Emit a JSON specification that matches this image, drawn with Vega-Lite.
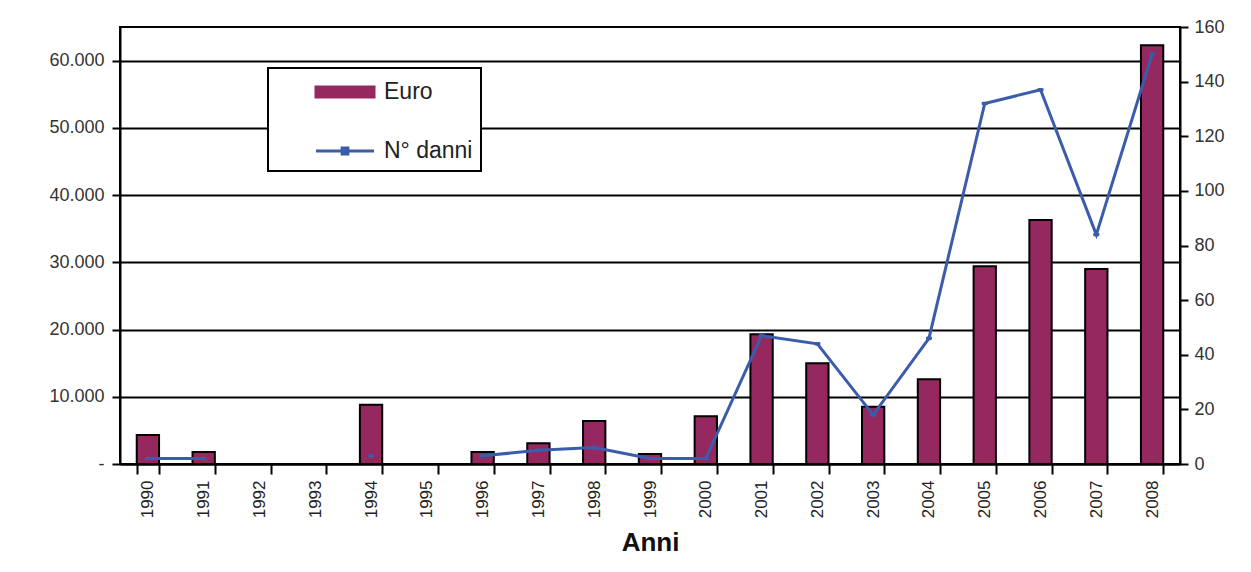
{
  "$schema": "https://vega.github.io/schema/vega-lite/v6.json",
  "width": 1060,
  "height": 437,
  "autosize": {"type": "none"},
  "padding": {"left": 120, "top": 27, "right": 71, "bottom": 108},
  "background": "white",
  "config": {
    "font": "Liberation Sans",
    "view": {"stroke": "black", "strokeWidth": 2},
    "legend": {"strokeWidth": 2}
  },
  "data": {
    "values": [
      {"year": "1990", "euro": 4300, "danni": 2},
      {"year": "1991", "euro": 1800, "danni": 2},
      {"year": "1992", "euro": null, "danni": null},
      {"year": "1993", "euro": null, "danni": null},
      {"year": "1994", "euro": 8800, "danni": 3},
      {"year": "1995", "euro": null, "danni": null},
      {"year": "1996", "euro": 1800, "danni": 3},
      {"year": "1997", "euro": 3100, "danni": 5},
      {"year": "1998", "euro": 6400, "danni": 6},
      {"year": "1999", "euro": 1500, "danni": 2},
      {"year": "2000", "euro": 7100, "danni": 2},
      {"year": "2001", "euro": 19300, "danni": 47},
      {"year": "2002", "euro": 15000, "danni": 44},
      {"year": "2003", "euro": 8500, "danni": 18},
      {"year": "2004", "euro": 12600, "danni": 46},
      {"year": "2005", "euro": 29400, "danni": 132},
      {"year": "2006", "euro": 36300, "danni": 137},
      {"year": "2007", "euro": 29000, "danni": 84},
      {"year": "2008", "euro": 62300, "danni": 150}
    ]
  },
  "encoding": {
    "x": {
      "field": "year",
      "type": "ordinal",
      "scale": {
        "domain": ["1990","1991","1992","1993","1994","1995","1996","1997","1998","1999","2000","2001","2002","2003","2004","2005","2006","2007","2008"],
        "paddingInner": 0.6,
        "paddingOuter": 0.3
      },
      "axis": {
        "labelAngle": -90,
        "labelFontSize": 17,
        "labelColor": "#222",
        "labelPadding": 6,
        "tickBand": "extent",
        "tickSize": 10,
        "tickWidth": 2,
        "tickColor": "black",
        "domainColor": "black",
        "domainWidth": 2,
        "title": "Anni",
        "titleFontSize": 26,
        "titleFontWeight": "bold",
        "titleColor": "#111",
        "titlePadding": 12
      }
    }
  },
  "layer": [
    {
      "mark": {"type": "bar", "stroke": "black", "strokeWidth": 2, "fill": "#95285e"},
      "encoding": {
        "y": {
          "field": "euro",
          "type": "quantitative",
          "scale": {"domain": [0, 65000], "nice": false},
          "axis": {
            "orient": "left",
            "values": [0, 10000, 20000, 30000, 40000, 50000, 60000],
            "labelExpr": "datum.value == 0 ? '-' : replace(format(datum.value, ','), ',', '.')",
            "labelFontSize": 18,
            "labelColor": "#333",
            "labelPadding": 8,
            "grid": true,
            "gridColor": "black",
            "gridWidth": 2,
            "gridOpacity": 1,
            "tickSize": 8,
            "tickWidth": 2,
            "tickColor": "black",
            "domainColor": "black",
            "domainWidth": 2,
            "title": null
          }
        }
      }
    },
    {
      "mark": {
        "type": "line",
        "strokeWidth": 3,
        "color": "#3b5bab",
        "invalid": "break-paths-filter-domains"
      },
      "encoding": {
        "y": {
          "field": "danni",
          "type": "quantitative",
          "scale": {"domain": [0, 160], "nice": false},
          "axis": {
            "orient": "right",
            "values": [0, 20, 40, 60, 80, 100, 120, 140, 160],
            "labelFontSize": 18,
            "labelColor": "#333",
            "labelPadding": 6,
            "grid": false,
            "tickSize": 8,
            "tickWidth": 2,
            "tickColor": "black",
            "domainColor": "black",
            "domainWidth": 2,
            "title": null
          }
        }
      }
    },
    {
      "mark": {"type": "point", "filled": false, "strokeWidth": 3, "size": 9, "opacity": 1},
      "encoding": {
        "y": {"field": "danni", "type": "quantitative", "scale": {"domain": [0, 160], "nice": false}, "axis": null},
        "color": {
          "datum": "N° danni",
          "type": "nominal",
          "scale": {"domain": ["Euro", "N° danni"], "range": ["#95285e", "#3b5bab"]},
          "legend": {
            "title": null,
            "orient": "none",
            "legendX": 148,
            "legendY": 41,
            "padding": 8,
            "strokeColor": "black",
            "fillColor": "white",
            "labelFontSize": 23,
            "labelColor": "#222",
            "labelOffset": 23,
            "rowPadding": 31,
            "symbolOffset": 53,
            "symbolSize": 841,
            "symbolStrokeWidth": 3
          }
        },
        "shape": {
          "datum": "N° danni",
          "type": "nominal",
          "scale": {
            "domain": ["Euro", "N° danni"],
            "range": ["M-2,-0.34H2V0.34H-2ZM-2,-0.17H2M-2,0H2M-2,0.17H2", "M-2,0H2M-0.2,-0.2H0.2V0.2H-0.2Z"]
          },
          "legend": {
            "title": null,
            "orient": "none",
            "legendX": 148,
            "legendY": 41,
            "padding": 8,
            "strokeColor": "black",
            "fillColor": "white",
            "labelFontSize": 23,
            "labelColor": "#222",
            "labelOffset": 23,
            "rowPadding": 31,
            "symbolOffset": 53,
            "symbolSize": 841,
            "symbolStrokeWidth": 3
          }
        }
      }
    }
  ],
  "resolve": {"scale": {"y": "independent"}}
}
